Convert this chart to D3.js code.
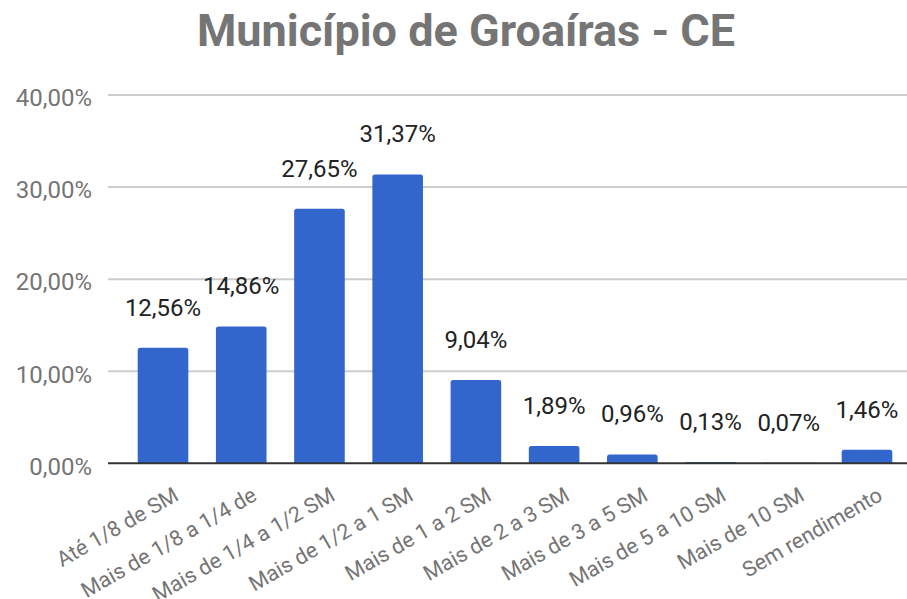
<!DOCTYPE html>
<html><head><meta charset="utf-8">
<script src="https://cdn.jsdelivr.net/npm/d3@7"></script>
<style>body{margin:0;background:#fff}svg{display:block}text{font-family:Roboto,"Noto Sans",sans-serif}</style>
</head><body>
<script>
const categories = ["Até 1/8 de SM","Mais de 1/8 a 1/4 de","Mais de 1/4 a 1/2 SM","Mais de 1/2 a 1 SM","Mais de 1 a 2 SM","Mais de 2 a 3 SM","Mais de 3 a 5 SM","Mais de 5 a 10 SM","Mais de 10 SM","Sem rendimento"];
const values = [12.56,14.86,27.65,31.37,9.04,1.89,0.96,0.13,0.07,1.46];
const yTicks = [0,10,20,30,40];
const title = "Município de Groaíras - CE";

const W=907,H=599;
const svg=d3.select("body").append("svg").attr("width",W).attr("height",H);
const fmt = v => v.toFixed(2).replace(".",",")+"%";

const y=d3.scaleLinear().domain([0,40]).range([463.3,95]);
const x=d3.scaleBand().domain(categories).range([123.9,906.1]).paddingInner(0.353).paddingOuter(0.1765);

svg.append("text").attr("x",466).attr("y",46).attr("text-anchor","middle")
  .attr("font-size",45).attr("font-weight","bold").attr("fill","#757575").text(title);

const grid=svg.append("g");
grid.selectAll("line").data(yTicks.filter(d=>d>0)).join("line")
  .attr("x1",108).attr("x2",907).attr("y1",d=>y(d)).attr("y2",d=>y(d))
  .attr("stroke","#cccccc").attr("stroke-width",2);

const yAxis=d3.axisLeft(y).tickValues(yTicks).tickFormat(d=>fmt(d)).tickSize(0).tickPadding(0);
const ya=svg.append("g").attr("transform","translate(92,0)").call(yAxis);
ya.select(".domain").remove();
ya.selectAll("text").attr("font-size",24).attr("fill","#757575").attr("font-family","Roboto").attr("dy","0.45em");

const r=2.5;
svg.append("g").selectAll("path").data(values).join("path")
  .attr("fill","#3366cc")
  .attr("d",(d,i)=>{
    const x0=x(categories[i]),w=x.bandwidth(),y0=y(d),yb=y(0);
    const rr=Math.min(r,(yb-y0)/2);
    return `M${x0},${yb}V${y0+rr}Q${x0},${y0} ${x0+rr},${y0}H${x0+w-rr}Q${x0+w},${y0} ${x0+w},${y0+rr}V${yb}Z`;
  });

svg.append("line").attr("x1",108).attr("x2",907).attr("y1",y(0)).attr("y2",y(0))
  .attr("stroke","#333333").attr("stroke-width",2);

svg.append("g").selectAll("text").data(values).join("text")
  .attr("x",(d,i)=>x(categories[i])+x.bandwidth()/2)
  .attr("y",d=>y(d)-32).attr("text-anchor","middle")
  .attr("font-size",24).attr("fill","#222222").text(d=>fmt(d));

const xAxis=d3.axisBottom(x).tickSize(0).tickPadding(0);
const xa=svg.append("g").attr("transform","translate(0,"+y(0)+")").call(xAxis);
xa.select(".domain").remove();
xa.selectAll("text").attr("font-size",21.5).attr("fill","#757575").attr("font-family","Roboto")
  .attr("text-anchor","end").attr("dy",0).attr("y",0)
  .attr("transform","translate(17,36) rotate(-30)");
</script>
</body></html>
